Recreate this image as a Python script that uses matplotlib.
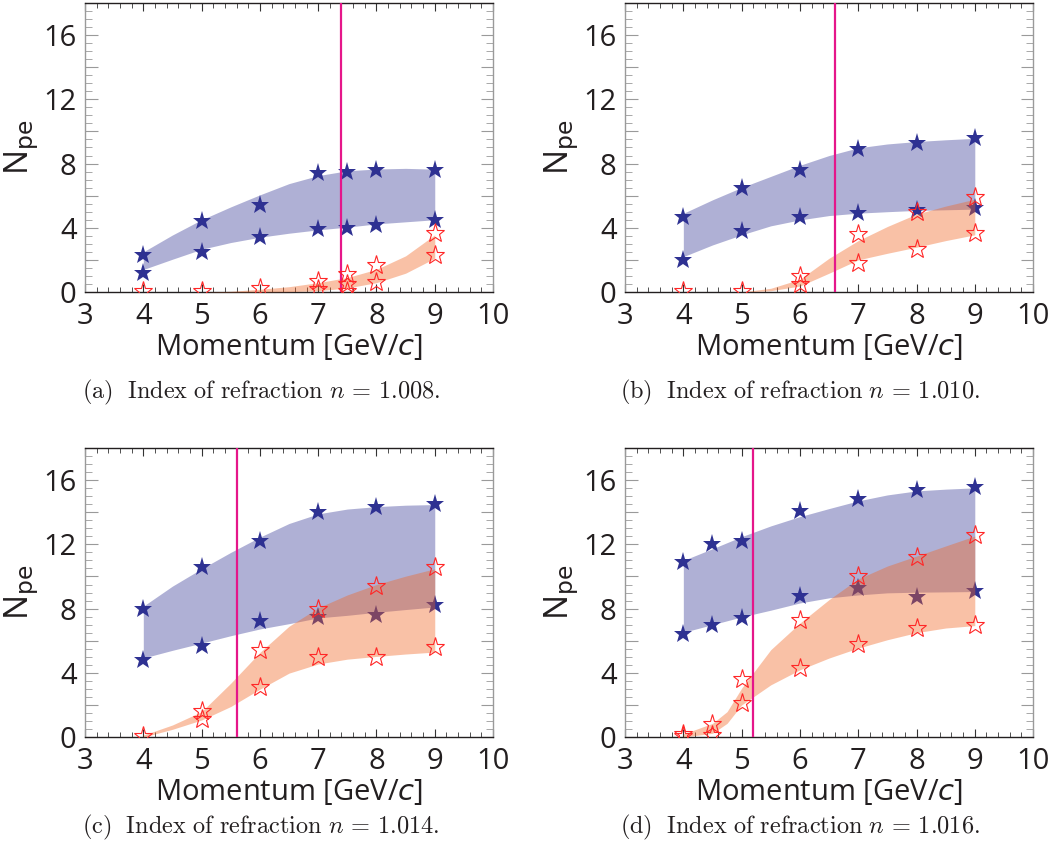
import numpy as np
import matplotlib
matplotlib.use("Agg")
import matplotlib.pyplot as plt
from matplotlib.ticker import MultipleLocator, FuncFormatter

plt.rcParams['font.family'] = ['Open Sans', 'DejaVu Sans']

# ---- data ----
captions = ["(a)", "(b)", "(c)", "(d)"]
n_values = ["1.008", "1.010", "1.014", "1.016"]
threshold = [7.4, 6.6, 5.6, 5.2]

# blue (filled) stars: x, y
blue_x_a = [4, 4, 5, 5, 6, 6, 7, 7, 7.5, 7.5, 8, 8, 9, 9]
blue_y_a = [2.3, 1.2, 4.4, 2.5, 5.4, 3.4, 7.4, 3.9, 7.5, 4.0, 7.6, 4.2, 7.6, 4.5]
blue_x_b = [4, 4, 5, 5, 6, 6, 7, 7, 8, 8, 9, 9]
blue_y_b = [4.7, 2.0, 6.5, 3.8, 7.6, 4.7, 8.9, 4.9, 9.3, 5.1, 9.6, 5.2]
blue_x_c = [4, 4, 5, 5, 6, 6, 7, 7, 8, 8, 9, 9]
blue_y_c = [8.0, 4.8, 10.6, 5.7, 12.2, 7.2, 14.0, 7.5, 14.3, 7.6, 14.5, 8.2]
blue_x_d = [4, 4, 4.5, 4.5, 5, 5, 6, 6, 7, 7, 8, 8, 9, 9]
blue_y_d = [10.9, 6.4, 12.0, 7.0, 12.2, 7.4, 14.1, 8.8, 14.8, 9.3, 15.4, 8.7, 15.6, 9.1]

# red (open) stars: x, y
red_x_a = [4, 5, 6, 7, 7, 7.5, 7.5, 7.5, 8, 8, 9, 9]
red_y_a = [0.05, 0.05, 0.25, 0.7, 0.2, 1.1, 0.5, 0.05, 1.7, 0.6, 3.7, 2.3]
red_x_b = [4, 5, 6, 6, 7, 7, 8, 8, 9, 9]
red_y_b = [0.05, 0.05, 1.0, 0.5, 3.6, 1.8, 5.0, 2.7, 5.9, 3.7]
red_x_c = [4, 5, 5, 6, 6, 7, 7, 8, 8, 9, 9]
red_y_c = [0.05, 1.6, 1.1, 5.4, 3.1, 8.0, 5.0, 9.4, 5.0, 10.6, 5.6]
red_x_d = [4, 4, 4.5, 4.5, 5, 5, 6, 6, 7, 7, 8, 8, 9, 9]
red_y_d = [0.2, 0.05, 0.8, 0.1, 3.6, 2.1, 7.3, 4.3, 10.0, 5.8, 11.2, 6.8, 12.6, 7.0]

# band edges (read at x = 4.0 ... 9.0, step 0.5)
band_x = [4, 4.5, 5, 5.5, 6, 6.5, 7, 7.5, 8, 8.5, 9]
blue_hi_a = [2.5, 3.55, 4.5, 5.3, 6.05, 6.75, 7.25, 7.55, 7.66, 7.7, 7.65]
blue_lo_a = [1.4, 2.04, 2.66, 3.08, 3.41, 3.66, 3.87, 4.04, 4.24, 4.37, 4.5]
blue_hi_b = [4.9, 5.74, 6.51, 7.2, 7.89, 8.5, 8.98, 9.22, 9.37, 9.48, 9.57]
blue_lo_b = [2.2, 2.93, 3.56, 4.12, 4.49, 4.76, 4.91, 5.0, 5.08, 5.12, 5.16]
blue_hi_c = [8.15, 9.4, 10.48, 11.5, 12.45, 13.3, 13.9, 14.2, 14.35, 14.44, 14.48]
blue_lo_c = [4.92, 5.4, 5.85, 6.31, 6.73, 7.06, 7.42, 7.58, 7.77, 7.94, 8.1]
blue_hi_d = [11.0, 11.73, 12.48, 13.15, 13.73, 14.23, 14.71, 15.08, 15.33, 15.44, 15.52]
blue_lo_d = [6.52, 7.0, 7.48, 7.9, 8.35, 8.67, 8.85, 8.98, 9.02, 9.04, 9.06]

red_x_ab = [5, 5.5, 6, 6.5, 7, 7.5, 8, 8.5, 9]
red_hi_a = [0.0, 0.04, 0.17, 0.33, 0.58, 0.9, 1.41, 2.25, 3.56]
red_lo_a = [0.0, 0.0, 0.0, 0.02, 0.08, 0.25, 0.58, 1.17, 2.1]
red_hi_b = [0.0, 0.23, 0.79, 2.1, 3.2, 4.08, 4.85, 5.35, 5.78]
red_lo_b = [0.0, 0.08, 0.37, 1.17, 2.0, 2.41, 2.79, 3.2, 3.56]
red_band_x_c = [4, 4.5, 5, 5.5, 6, 6.5, 7, 7.5, 8, 8.5, 9]
red_hi_c = [0.12, 0.75, 1.58, 3.35, 5.27, 6.9, 8.05, 8.85, 9.5, 10.02, 10.48]
red_lo_c = [0.0, 0.48, 1.06, 1.9, 2.98, 3.98, 4.55, 4.85, 5.02, 5.17, 5.29]
red_band_x_d = [4, 4.5, 4.75, 5, 5.5, 6, 6.5, 7, 7.5, 8, 8.5, 9]
red_hi_d = [0.19, 0.85, 1.58, 3.04, 5.44, 7.1, 8.56, 9.85, 10.65, 11.27, 11.9, 12.52]
red_lo_d = [0.0, 0.23, 0.85, 2.0, 3.25, 4.19, 4.92, 5.54, 6.06, 6.5, 6.79, 6.94]

panels = [
    (blue_x_a, blue_y_a, red_x_a, red_y_a, band_x, blue_hi_a, blue_lo_a, red_x_ab, red_hi_a, red_lo_a),
    (blue_x_b, blue_y_b, red_x_b, red_y_b, band_x, blue_hi_b, blue_lo_b, red_x_ab, red_hi_b, red_lo_b),
    (blue_x_c, blue_y_c, red_x_c, red_y_c, band_x, blue_hi_c, blue_lo_c, red_band_x_c, red_hi_c, red_lo_c),
    (blue_x_d, blue_y_d, red_x_d, red_y_d, band_x, blue_hi_d, blue_lo_d, red_band_x_d, red_hi_d, red_lo_d),
]

# ---- styling ----
NAVY = '#2e3192'
BLUE_BAND = '#2e3192'
RED_BAND = '#f26522'
RED_STAR = '#ff2626'
MAGENTA = '#e5168a'
GREY = '#9a9a9a'
DARK = '#231f20'

fig = plt.figure(figsize=(10.56, 8.57), dpi=100)

# axes rectangles in figure fractions
lefts = [0.0805, 0.5919, 0.0805, 0.5919]
bottoms = [0.6593, 0.6593, 0.1400, 0.1400]
W, H = 0.3864, 0.3372
cap_x = [0.0777, 0.587, 0.0777, 0.587]
cap_y = [0.5426, 0.5426, 0.034, 0.034]

for i, (bx, by, rx, ry, bbx, bhi, blo, rbx, rhi, rlo) in enumerate(panels):
    ax = fig.add_axes([lefts[i], bottoms[i], W, H])

    ax.fill_between(bbx, blo, bhi, color=BLUE_BAND, alpha=0.38, linewidth=0, zorder=1)
    ax.plot(bx, by, linestyle='none', marker='*', ms=14, color=NAVY,
            markeredgewidth=0, zorder=2)
    ax.fill_between(rbx, rlo, rhi, color=RED_BAND, alpha=0.40, linewidth=0, zorder=3)
    ax.axvline(threshold[i], color=MAGENTA, linewidth=1.6, zorder=4)
    ax.plot(rx, ry, linestyle='none', marker='*', ms=14, markerfacecolor='none',
            markeredgecolor=RED_STAR, markeredgewidth=0.8, zorder=5)

    ax.set_xlim(3, 10)
    ax.set_ylim(0, 18)
    ax.xaxis.set_major_locator(MultipleLocator(1))
    ax.xaxis.set_minor_locator(MultipleLocator(0.2))
    ax.yaxis.set_major_locator(MultipleLocator(2))
    ax.yaxis.set_minor_locator(MultipleLocator(0.5))
    ax.yaxis.set_major_formatter(FuncFormatter(lambda v, p: f"{v:.0f}" if v % 4 == 0 else ""))

    ax.tick_params(axis='x', which='both', direction='in', top=True, bottom=True,
                   color='#333333', labelsize=21, pad=7)
    ax.tick_params(axis='x', which='major', length=6, width=0.8)
    ax.tick_params(axis='x', which='minor', length=3.5, width=0.6)
    ax.tick_params(axis='y', which='both', direction='in', left=True, right=True,
                   color=GREY, labelsize=21, pad=6)
    ax.tick_params(axis='y', which='major', length=9, width=0.8)
    ax.tick_params(axis='y', which='minor', length=5, width=0.6)
    ax.tick_params(labelcolor=DARK)

    for s in ['top', 'bottom']:
        ax.spines[s].set_color(DARK)
        ax.spines[s].set_linewidth(1.0)
    for s in ['left', 'right']:
        ax.spines[s].set_color(GREY)
        ax.spines[s].set_linewidth(1.0)

    ax.set_xlabel('Momentum [GeV/$c$]', fontsize=21, color=DARK, labelpad=1)
    ax.set_ylabel(r'N$_{\mathrm{pe}}$', fontsize=24, color=DARK, labelpad=2,
                  math_fontfamily='dejavusans')

    fig.text(cap_x[i], cap_y[i],
             r'$\mathrm{' + captions[i] + r'\ \ Index\ of\ refraction}\ n\,=\,' + n_values[i] + r'.$',
             fontsize=17.5, ha='left', va='center', math_fontfamily='cm', color=DARK)

fig.savefig('out.png', dpi=100)
